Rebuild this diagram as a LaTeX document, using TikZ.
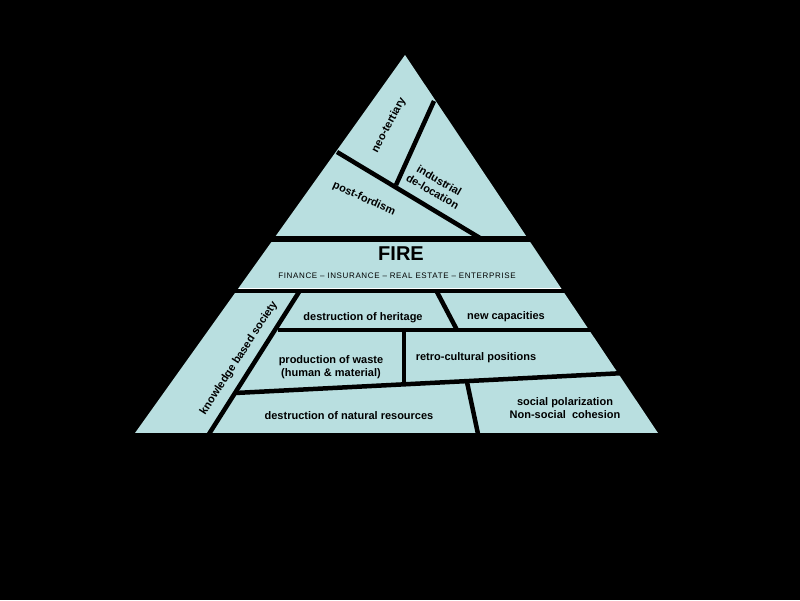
\documentclass[tikz,border=0pt]{standalone}
\usepackage{fontspec}
\setmainfont{Liberation Sans}
\begin{document}
\begin{tikzpicture}[x=1pt,y=-1pt,
  sep/.style={line width=4.5pt,black},
  lab/.style={font=\bfseries\fontsize{11}{13}\selectfont,align=center,inner sep=0pt}]
\definecolor{pyr}{HTML}{B9DFE0}
\fill[black] (0,0) rectangle (800,600);
\useasboundingbox (0,0) rectangle (800,600);
\fill[pyr] (405,55) -- (658,433) -- (135,433) -- cycle;
% bands around FIRE
\fill[black] (100,236) rectangle (700,242);
\fill[black] (100,289) rectangle (700,293);
\draw[white,line width=1pt] (239,288.5) -- (561,288.5);
\fill[black] (100,433) rectangle (700,440);
% top dividers
\draw[sep] (434,101) -- (396,185);
\draw[sep] (337,152) -- (480,238);
% lower dividers
\draw[sep] (299,292) -- (209,434);
\draw[sep] (278,330) -- (620,330);
\draw[sep] (437,292) -- (457,330);
\draw[sep] (235,393) -- (625,373);
\draw[sep] (404,330) -- (404,384);
\draw[sep] (467,382) -- (478,434);
% labels
\node[lab,rotate=62] (neo) at (389,125) {neo-tertiary};
\node[lab,rotate=-30] (ind) at (436,186) {industrial\\de-location};
\node[lab,rotate=-24] (post) at (364,199) {post-fordism};
\node[inner sep=0pt,font=\bfseries\fontsize{20}{22}\selectfont] (fire) at (401,254) {FIRE};
\node[inner sep=0pt,font=\fontsize{8}{9}\selectfont\addfontfeature{LetterSpace=8}] (fsub) at (397,276) {FINANCE -- INSURANCE -- REAL ESTATE -- ENTERPRISE};
\node[lab,rotate=57] (know) at (239,358) {knowledge based society};
\node[lab] (her) at (363,318) {destruction of heritage};
\node[lab] (cap) at (506,317) {new capacities};
\node[lab] (waste) at (331,367) {production of waste\\(human \& material)};
\node[lab] (retro) at (476,358) {retro-cultural positions};
\node[lab] (nat) at (349,416) {destruction of natural resources};
\node[lab] (soc) at (565,408) {social polarization\\Non-social\ \ cohesion};
\end{tikzpicture}
\end{document}
